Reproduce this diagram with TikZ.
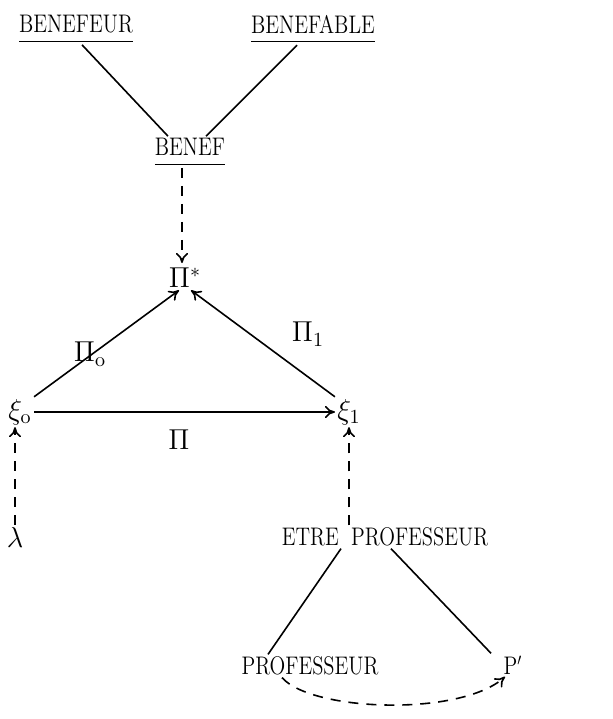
\documentclass[tikz,border=0pt]{standalone}
\usepackage{graphicx}
\usetikzlibrary{arrows.meta}
% typed capitals: narrow and tall
\newcommand{\typed}[1]{\scalebox{0.86}[1.06]{\large #1}}
\begin{document}
\begin{tikzpicture}[x=0.5pt, y=-0.5pt,
    word/.style={inner sep=1pt},
    sym/.style={inner sep=1pt, font=\Large},
    link/.style={thick},
    mapto/.style={thick, -{To[length=5pt,width=6pt]}},
    derive/.style={thick, dashed, dash pattern=on 5pt off 4pt, -{To[length=5pt,width=6pt]}}]
    \useasboundingbox (0,0) rectangle (613,719);

    % Upper tree
    \node[word] (benefeur) at (76,29) {\typed{\underline{BENEFEUR\vphantom{g}}}};
    \node[word] (benefable) at (313,29) {\typed{\underline{BENEFABLE\vphantom{g}}}};
    \node[word] (benef) at (190,152) {\typed{\underline{BENEF\vphantom{g}}}};
    \draw[link] ([xshift=3pt]benefeur.south) -- ([xshift=-11pt]benef.north);
    \draw[link] ([xshift=-8pt]benefable.south) -- ([xshift=8pt]benef.north);

    % Triangle
    \node[sym] (pistar) at (185,278) {$\Pi^{*}$};
    \node[sym] (xizero) at (20,412) {$\xi_{\mathrm{o}}$};
    \node[sym] (xione) at (349,412) {$\xi_{1}$};
    \node[sym, fill=white] (pizero) at (90,354) {$\Pi_{\mathrm{o}}$};
    \node[sym] (pione) at (308,334) {$\Pi_{1}$};
    \node[sym] (pimid) at (179,440) {$\Pi$};
    \draw[derive] (benef.south -| 182,0) -- (182,263);
    \draw[mapto] (xizero.north east) -- ([xshift=-3pt]pistar.south);
    \draw[mapto] (xione.north west) -- ([xshift=3pt]pistar.south);
    \draw[mapto] (xizero.east) -- (xizero.east -| xione.west);

    % Lower part
    \node[sym] (lambda) at (15,537) {$\lambda$};
    \node[word] (etre) at (385,537) {\typed{ETRE\hspace{0.6em}PROFESSEUR}};
    \node[word] (prof) at (310,666) {\typed{PROFESSEUR}};
    \node[word] (pprime) at (513,665) {\typed{P$'$}};
    \draw[derive] (lambda.north) -- (lambda.north |- xizero.south);
    \draw[derive] (etre.north -| xione.south) -- (xione.south);
    \draw[link] ([xshift=-22pt]etre.south) -- ([xshift=-21pt]prof.north);
    \draw[link] ([xshift=3pt]etre.south) -- ([xshift=-11pt]pprime.north);
    \draw[derive] ([xshift=-14pt]prof.south) .. controls +(30,34) and +(-45,40) .. ([xshift=-4pt]pprime.south);
\end{tikzpicture}
\end{document}
